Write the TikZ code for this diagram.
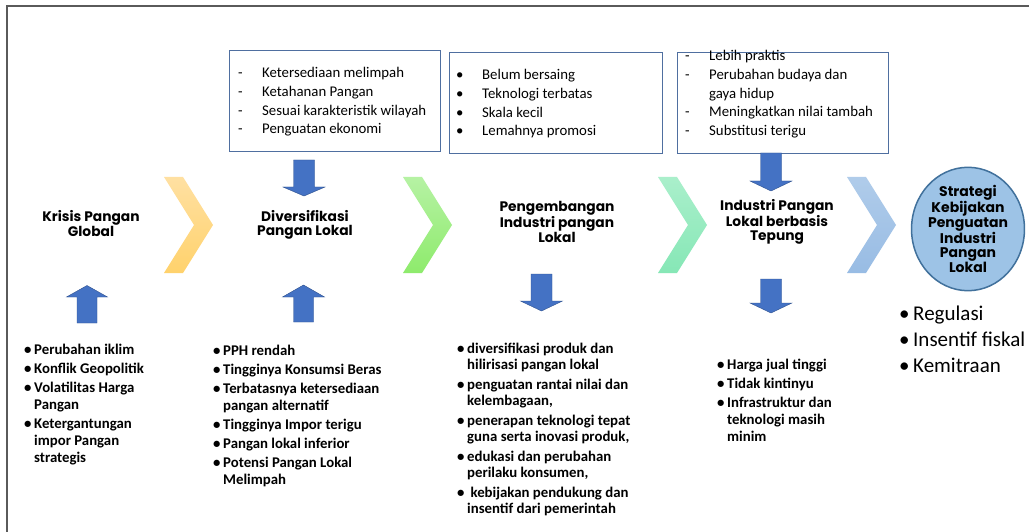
\documentclass[tikz,border=0pt]{standalone}
\usepackage{fontspec}
\setmainfont{Carlito}
\newfontfamily\titlefont{Poppins}
\usetikzlibrary{shapes.geometric}
\definecolor{framegray}{HTML}{5A5A5A}
\definecolor{boxblue}{HTML}{4F6FA0}
\definecolor{arrowfill}{HTML}{4472C4}
\definecolor{arrowline}{HTML}{2F528F}
\definecolor{circfill}{HTML}{9DC3E6}
\definecolor{circline}{HTML}{41719C}
\definecolor{orangeA}{HTML}{FFE0A2}
\definecolor{orangeB}{HTML}{FFD26C}
\definecolor{greenA}{HTML}{B6F2A4}
\definecolor{greenB}{HTML}{8EEB6C}
\definecolor{tealA}{HTML}{AAEFCB}
\definecolor{tealB}{HTML}{86E7B6}
\definecolor{blueA}{HTML}{B0CCEA}
\definecolor{blueB}{HTML}{98BCE4}
\newcommand\blockdown[5]{%
  \draw[blockarrow] ({#2-10.5},#3) coordinate (#1) -- ({#2+10.5},#3) -- ({#2+10.5},#4) -- ({#2+21},#4) -- (#2,#5) -- ({#2-21},#4) -- ({#2-10.5},#4) -- cycle;}
\newcommand\chevronshape[4]{%
  \path[top color=#3, bottom color=#4] (#1,#2) -- ({#1+19},#2) -- ({#1+49},{#2+48}) -- ({#1+19},{#2+96}) -- (#1,{#2+96}) -- ({#1+30},{#2+48}) -- cycle;}
\newcommand\itm[1]{\hangindent=10pt\hangafter=1\noindent\makebox[10pt][l]{\textbullet}#1\par}
\begin{document}
\begin{tikzpicture}[x=1pt,y=-1pt,
  blockarrow/.style={fill=arrowfill, draw=arrowline, line width=0.4pt},
  infobox/.style={draw=boxblue, line width=0.9pt, fill=white, inner sep=0pt},
  boxtext/.style={inner sep=0pt, anchor=base west, font=\fontsize{14.8}{18.6}\selectfont},
  titletext/.style={inner sep=0pt, align=center, font=\titlefont\bfseries\fontsize{13.8}{14}\selectfont},
  listtext/.style={inner sep=0pt, anchor=base west, font=\bfseries\fontsize{14.8}{17}\selectfont}
]
\useasboundingbox (0,0) rectangle (1029,532);
\fill[white] (0,0) rectangle (1029,532);
\draw[framegray, line width=1.6pt] (7,540) -- (7,6) -- (1040,6);

% chevrons
\chevronshape{164}{177}{orangeA}{orangeB}
\chevronshape{403}{177}{greenA}{greenB}
\chevronshape{658}{177}{tealA}{tealB}
\chevronshape{847}{177}{blueA}{blueB}

% info boxes
\node[infobox, minimum width=211pt, minimum height=101pt] (box1) at (334.5,100.5) {};
\node[infobox, minimum width=213pt, minimum height=101pt] (box2) at (555.5,102.5) {};
\node[infobox, minimum width=211pt, minimum height=101pt] (box3) at (782.5,102.5) {};

\node[boxtext] (t1) at (238,78) {\begin{minipage}[t]{205pt}
\makebox[24pt][l]{-}Ketersediaan melimpah\\
\makebox[24pt][l]{-}Ketahanan Pangan\\
\makebox[24pt][l]{-}Sesuai karakteristik wilayah\\
\makebox[24pt][l]{-}Penguatan ekonomi\end{minipage}};
\node[boxtext] (t2) at (456,80) {\begin{minipage}[t]{205pt}
\makebox[26pt][l]{\textbullet}Belum bersaing\\
\makebox[26pt][l]{\textbullet}Teknologi terbatas\\
\makebox[26pt][l]{\textbullet}Skala kecil\\
\makebox[26pt][l]{\textbullet}Lemahnya promosi\end{minipage}};
\node[boxtext] (t3) at (685,61) {\begin{minipage}[t]{205pt}
\makebox[24pt][l]{-}Lebih praktis\\
\makebox[24pt][l]{-}Perubahan budaya dan\\
\makebox[24pt][l]{}gaya hidup\\
\makebox[24pt][l]{-}Meningkatkan nilai tambah\\
\makebox[24pt][l]{-}Substitusi terigu\end{minipage}};

% titles
\node[titletext] (krisis) at (91,224) {Krisis Pangan\\Global};
\node[titletext] (divers) at (305,225) {Diversifikasi\\Pangan Lokal};
\node[titletext] (kembang) at (557,222) {Pengembangan\\Industri pangan\\Lokal};
\node[titletext] (industri) at (777,222) {Industri Pangan\\Lokal berbasis\\Tepung};
\node[ellipse, fill=circfill, draw=circline, line width=1.5pt, minimum width=110pt, minimum height=118pt, inner sep=0pt, titletext, font=\titlefont\bfseries\fontsize{14}{14.6}\selectfont] (strategi) at (968,229) {Strategi\\Kebijakan\\Penguatan\\Industri\\Pangan\\Lokal};

% block arrows
\draw[blockarrow] (77,323) coordinate (up1) -- (97,323) -- (97,297) -- (107.5,297) -- (87,285.5) -- (66.5,297) -- (77,297) -- cycle;
\draw[blockarrow] (293.5,322) coordinate (up2) -- (313.5,322) -- (313.5,297) -- (324.5,297) -- (303.5,285) -- (282.5,297) -- (293.5,297) -- cycle;
\blockdown{dn1}{304}{160}{187}{196}
\blockdown{dn2}{541.5}{274}{301}{311}
\blockdown{dn3}{771}{153}{181}{191}
\blockdown{dn4}{771}{279}{303}{313}

% lists
\node[listtext] (l1) at (24,354) {\begin{minipage}[t]{190pt}\setlength{\parskip}{2pt}
\itm{Perubahan iklim}
\itm{Konflik Geopolitik}
\itm{Volatilitas Harga\newline Pangan}
\itm{Ketergantungan\newline impor Pangan\newline strategis}\end{minipage}};
\node[listtext] (l2) at (213,355) {\begin{minipage}[t]{200pt}\setlength{\parskip}{2pt}
\itm{PPH rendah}
\itm{Tingginya Konsumsi Beras}
\itm{Terbatasnya ketersediaan\newline pangan alternatif}
\itm{Tingginya Impor terigu}
\itm{Pangan lokal inferior}
\itm{Potensi Pangan Lokal\newline Melimpah}\end{minipage}};
\node[listtext, font=\bfseries\fontsize{14.8}{16}\selectfont] (l3) at (457,353) {\begin{minipage}[t]{220pt}\setlength{\parskip}{4pt}
\itm{diversifikasi produk dan\newline hilirisasi pangan lokal}
\itm{penguatan rantai nilai dan\newline kelembagaan,}
\itm{penerapan teknologi tepat\newline guna serta inovasi produk,}
\itm{edukasi dan perubahan\newline perilaku konsumen,}
\itm{\ kebijakan pendukung dan\newline insentif dari pemerintah}\end{minipage}};
\node[listtext] (l4) at (717,369) {\begin{minipage}[t]{170pt}\setlength{\parskip}{2pt}
\itm{Harga jual tinggi}
\itm{Tidak kintinyu}
\itm{Infrastruktur dan\newline teknologi masih\newline minim}\end{minipage}};
\node[listtext, font=\fontsize{21}{26}\selectfont] (l5) at (899,320) {\begin{minipage}[t]{170pt}
\noindent\makebox[14pt][l]{\textbullet}Regulasi\par
\noindent\makebox[14pt][l]{\textbullet}Insentif fiskal\par
\noindent\makebox[14pt][l]{\textbullet}Kemitraan\end{minipage}};
\end{tikzpicture}
\end{document}
